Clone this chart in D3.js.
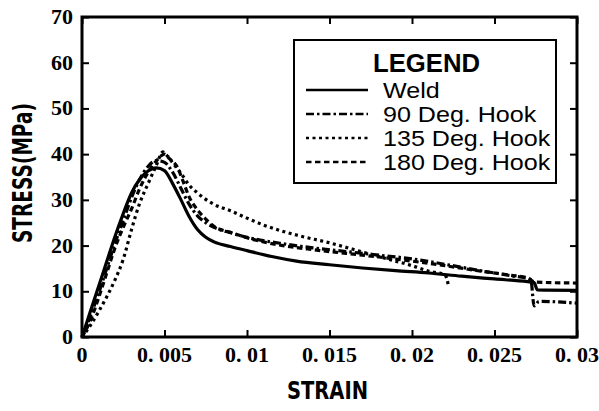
<!DOCTYPE html>
<html>
<head>
<meta charset="utf-8">
<script src="https://cdn.jsdelivr.net/npm/d3@7"></script>
<style>
  body { margin: 0; background: #fff; }
  svg { display: block; }
  .tick-label { font-family: "Liberation Serif", serif; font-weight: bold; font-size: 22px; }
  .axis-title { font-family: "DejaVu Sans", sans-serif; font-weight: bold; }
  .legend-text { font-family: "Liberation Sans", Arial, sans-serif; font-size: 22px; }
</style>
</head>
<body>
<div id="chart"></div>
<script>
(function() {
    var width = 599,
        height = 411;

    // tick values and their printed labels
    var xTicks = [0, 0.005, 0.01, 0.015, 0.02, 0.025, 0.03];
    var xTickLabels = ["0", "0. 005", "0. 01", "0. 015", "0. 02", "0. 025", "0. 03"];
    var yTicks = [0, 10, 20, 30, 40, 50, 60, 70];

    var seriesNames = ["Weld", "90 Deg. Hook", "135 Deg. Hook", "180 Deg. Hook"];

    // strain / stress (MPa)
    var weldStrain = [0, 0.0005, 0.001, 0.0015, 0.002, 0.0025, 0.003, 0.0035, 0.004, 0.0045, 0.005, 0.0055, 0.006, 0.0065, 0.007, 0.0075, 0.008, 0.009, 0.01, 0.0115, 0.013, 0.015, 0.017, 0.019, 0.021, 0.023, 0.025, 0.027, 0.0274, 0.0276, 0.03];
    var weldStress = [0, 5.5, 11, 16.5, 22, 27, 31.5, 34.5, 36.3, 37, 36.4, 33.5, 30, 26.3, 23.5, 21.8, 20.8, 19.8, 18.9, 17.6, 16.6, 15.8, 15.1, 14.5, 14, 13.3, 12.7, 12.1, 11.9, 10.3, 10.2];

    var hook90Strain = [0, 0.0005, 0.001, 0.0015, 0.002, 0.0025, 0.003, 0.0035, 0.004, 0.0045, 0.005, 0.0055, 0.006, 0.0065, 0.007, 0.0075, 0.008, 0.009, 0.01, 0.012, 0.014, 0.016, 0.018, 0.02, 0.022, 0.024, 0.026, 0.0272, 0.0274, 0.0277, 0.03];
    var hook90Stress = [0, 4.5, 9.5, 15, 20.5, 25.5, 30.5, 34.5, 37.3, 38.6, 38.2, 36, 32.5, 29, 26.5, 25, 24, 22.8, 21.8, 20.5, 19.5, 18.7, 17.9, 17.1, 15.9, 14.6, 13.4, 12.6, 6.8, 7.8, 7.4];

    var hook135Strain = [0, 0.0005, 0.001, 0.0015, 0.002, 0.0025, 0.003, 0.0035, 0.004, 0.0045, 0.0049, 0.0052, 0.0056, 0.006, 0.0065, 0.007, 0.008, 0.009, 0.01, 0.011, 0.013, 0.015, 0.017, 0.019, 0.02, 0.021, 0.022, 0.0222];
    var hook135Stress = [0, 2.5, 5.5, 8.8, 12.5, 17, 23.5, 29.3, 33.5, 37.5, 40.5, 39.5, 37.6, 35.8, 33.2, 31.5, 29, 27.6, 26, 24.5, 22.3, 20.6, 18.6, 16.6, 15.6, 14.4, 13.6, 11.4];

    var hook180Strain = [0, 0.0005, 0.001, 0.0015, 0.002, 0.0025, 0.003, 0.0035, 0.004, 0.0045, 0.005, 0.0053, 0.0058, 0.0061, 0.0065, 0.007, 0.0075, 0.008, 0.009, 0.01, 0.012, 0.014, 0.016, 0.018, 0.02, 0.022, 0.024, 0.026, 0.027, 0.0275, 0.03];
    var hook180Stress = [0, 3.5, 8.5, 14, 19.5, 24, 28, 32.5, 36, 38.5, 40, 39, 37, 34.3, 30.6, 27.8, 25.8, 24.2, 22.9, 21.7, 20.1, 19.1, 18.3, 17.5, 16.6, 15.6, 14.5, 13.5, 12.9, 12, 11.8];

    var margin = {left: 82, right: 22, top: 17, bottom: 74};

    var svg = d3.select("#chart")
        .append("svg")
        .attr("width", width)
        .attr("height", height);

    var x = d3.scaleLinear()
        .domain([0, 0.03])
        .range([margin.left, width - margin.right]);

    var y = d3.scaleLinear()
        .domain([0, 70])
        .range([height - margin.bottom, margin.top]);

    var g = svg.append("g");

    // curves
    var line = d3.line()
        .x(function(d) { return x(d[0]); })
        .y(function(d) { return y(d[1]); })
        .curve(d3.curveMonotoneX);

    var series = [
        {strain: weldStrain, stress: weldStress, dash: null},
        {strain: hook90Strain, stress: hook90Stress, dash: "8,3,2.5,3"},
        {strain: hook135Strain, stress: hook135Stress, dash: "3,3.5"},
        {strain: hook180Strain, stress: hook180Stress, dash: "5.5,3.5"}
    ];

    series.forEach(function(s) {
        var pts = s.strain.map(function(v, i) { return [v, s.stress[i]]; });
        g.append("path")
            .datum(pts)
            .attr("d", line)
            .attr("fill", "none")
            .attr("stroke", "#000")
            .attr("stroke-width", 3.2)
            .attr("stroke-dasharray", s.dash);
    });

    // axes, ticks inside on all four sides
    var x0 = x.range()[0], x1 = x.range()[1];
    var y0 = y.range()[0], y1 = y.range()[1];

    g.append("g")
        .attr("transform", "translate(0," + y0 + ")")
        .call(d3.axisTop(x).tickValues(xTicks).tickSize(7).tickFormat(""))
        .call(styleAxis);
    g.append("g")
        .attr("transform", "translate(0," + y1 + ")")
        .call(d3.axisBottom(x).tickValues(xTicks).tickSize(7).tickFormat(""))
        .call(styleAxis);
    g.append("g")
        .attr("transform", "translate(" + x0 + ",0)")
        .call(d3.axisRight(y).tickValues(yTicks).tickSize(7).tickFormat(""))
        .call(styleAxis);
    g.append("g")
        .attr("transform", "translate(" + x1 + ",0)")
        .call(d3.axisLeft(y).tickValues(yTicks).tickSize(7).tickFormat(""))
        .call(styleAxis);

    function styleAxis(sel) {
        sel.select(".domain").remove();
        sel.selectAll(".tick line").attr("stroke", "#000").attr("stroke-width", 2);
    }

    g.append("rect")
        .attr("x", x0)
        .attr("y", y1)
        .attr("width", x1 - x0)
        .attr("height", y0 - y1)
        .attr("fill", "none")
        .attr("stroke", "#000")
        .attr("stroke-width", 3);

    // tick labels
    g.selectAll(".xlab")
        .data(xTicks)
        .enter().append("text")
        .attr("class", "tick-label")
        .attr("x", function(d) { return x(d); })
        .attr("y", y0 + 25)
        .attr("text-anchor", "middle")
        .text(function(d, i) { return xTickLabels[i]; });

    g.selectAll(".ylab")
        .data(yTicks)
        .enter().append("text")
        .attr("class", "tick-label")
        .attr("x", x0 - 9)
        .attr("y", function(d) { return y(d) + 7; })
        .attr("text-anchor", "end")
        .text(function(d) { return d; });

    // axis titles (condensed to match the narrow gothic face)
    svg.append("text")
        .attr("class", "axis-title")
        .attr("x", 287)
        .attr("y", 399)
        .attr("font-size", 24)
        .attr("textLength", 81)
        .attr("lengthAdjust", "spacingAndGlyphs")
        .text("STRAIN");

    svg.append("text")
        .attr("class", "axis-title")
        .attr("transform", "translate(32,243) rotate(-90)")
        .attr("font-size", 26)
        .attr("textLength", 140)
        .attr("lengthAdjust", "spacingAndGlyphs")
        .text("STRESS(MPa)");

    // legend
    var legend = svg.append("g");
    legend.append("rect")
        .attr("x", 294)
        .attr("y", 40)
        .attr("width", 262)
        .attr("height", 143)
        .attr("fill", "#fff")
        .attr("stroke", "#000")
        .attr("stroke-width", 2);

    legend.append("text")
        .attr("x", 373)
        .attr("y", 72)
        .attr("font-family", "Liberation Sans, Arial, sans-serif")
        .attr("font-weight", "bold")
        .attr("font-size", 25)
        .attr("textLength", 107)
        .attr("lengthAdjust", "spacingAndGlyphs")
        .text("LEGEND");

    seriesNames.forEach(function(name, i) {
        var base = 98 + i * 24;
        legend.append("line")
            .attr("x1", 306)
            .attr("x2", 368)
            .attr("y1", base - 8)
            .attr("y2", base - 8)
            .attr("stroke", "#000")
            .attr("stroke-width", 2.5)
            .attr("stroke-dasharray", series[i].dash);
        legend.append("text")
            .attr("class", "legend-text")
            .attr("transform", "translate(383," + base + ") scale(1.14,1)")
            .text(name);
    });
})();
</script>
</body>
</html>
